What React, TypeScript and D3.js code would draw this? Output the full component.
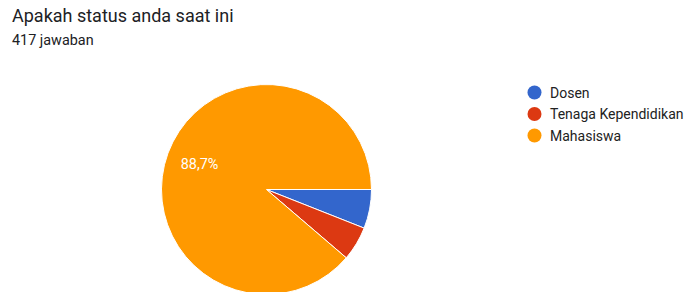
import React, { useEffect, useRef } from 'react'
import * as d3 from 'd3'

const categories = ['Dosen', 'Tenaga Kependidikan', 'Mahasiswa']
const counts = [25, 22, 370]
const colors = ['#3366cc', '#dc3912', '#ff9900']
const title = 'Apakah status anda saat ini'
const subtitle = '417 jawaban'

const width = 685
const height = 292

export default function App() {
    const svgRef = useRef<SVGSVGElement>(null)

    useEffect(() => {
        if (!svgRef.current) return
        const svg = d3.select(svgRef.current)
        svg.selectAll('*').remove()

        svg.append('rect').attr('width', width).attr('height', height).attr('fill', '#fff')

        // judul
        svg.append('text')
            .attr('x', 12)
            .attr('y', 22)
            .style('font-family', 'Roboto, sans-serif')
            .style('font-size', '18px')
            .attr('fill', '#202124')
            .text(title)

        svg.append('text')
            .attr('x', 12)
            .attr('y', 45)
            .style('font-family', 'Roboto, sans-serif')
            .style('font-size', '14.4px')
            .attr('fill', '#202124')
            .text(subtitle)

        const cx = 266.5
        const cy = 189.5
        const r = 105

        const total = d3.sum(counts)
        const pie = d3
            .pie<number>()
            .sort(null)
            .startAngle(Math.PI / 2)
            .endAngle(Math.PI / 2 + Math.PI * 2)
        const arcs = pie(counts)
        const arc = d3.arc<d3.PieArcDatum<number>>().innerRadius(0).outerRadius(r)
        const labelArc = d3
            .arc<d3.PieArcDatum<number>>()
            .innerRadius(r * 0.68)
            .outerRadius(r * 0.68)

        const g = svg.append('g').attr('transform', `translate(${cx},${cy})`)

        g.selectAll('path')
            .data(arcs)
            .enter()
            .append('path')
            .attr('d', arc)
            .attr('fill', (d, i) => colors[i])
            .attr('stroke', '#fff')
            .attr('stroke-width', 1)

        // label persen, hanya untuk irisan besar
        g.selectAll('.lbl')
            .data(arcs.filter((d) => d.value / total > 0.08))
            .enter()
            .append('text')
            .attr('class', 'lbl')
            .attr('transform', (d) => `translate(${labelArc.centroid(d)})`)
            .attr('text-anchor', 'middle')
            .attr('dominant-baseline', 'central')
            .style('font-family', 'Roboto, sans-serif')
            .style('font-size', '14.4px')
            .attr('fill', '#fff')
            .text((d) => ((d.value / total) * 100).toFixed(1).replace('.', ',') + '%')

        // legenda
        const legend = svg.append('g').attr('transform', 'translate(534.5,92.5)')
        const items = legend
            .selectAll('g')
            .data(categories)
            .enter()
            .append('g')
            .attr('transform', (d, i) => `translate(0,${i * 21.5})`)
        items.append('circle').attr('r', 7).attr('fill', (d, i) => colors[i])
        items
            .append('text')
            .attr('x', 15.5)
            .attr('dominant-baseline', 'central')
            .style('font-family', 'Roboto, sans-serif')
            .style('font-size', '14px')
            .attr('fill', '#222')
            .text((d) => d)
    }, [])

    return (
        <div style={{ position: 'fixed', left: 0, top: 0 }}>
            <svg ref={svgRef} width={width} height={height} style={{ display: 'block' }} />
        </div>
    )
}
